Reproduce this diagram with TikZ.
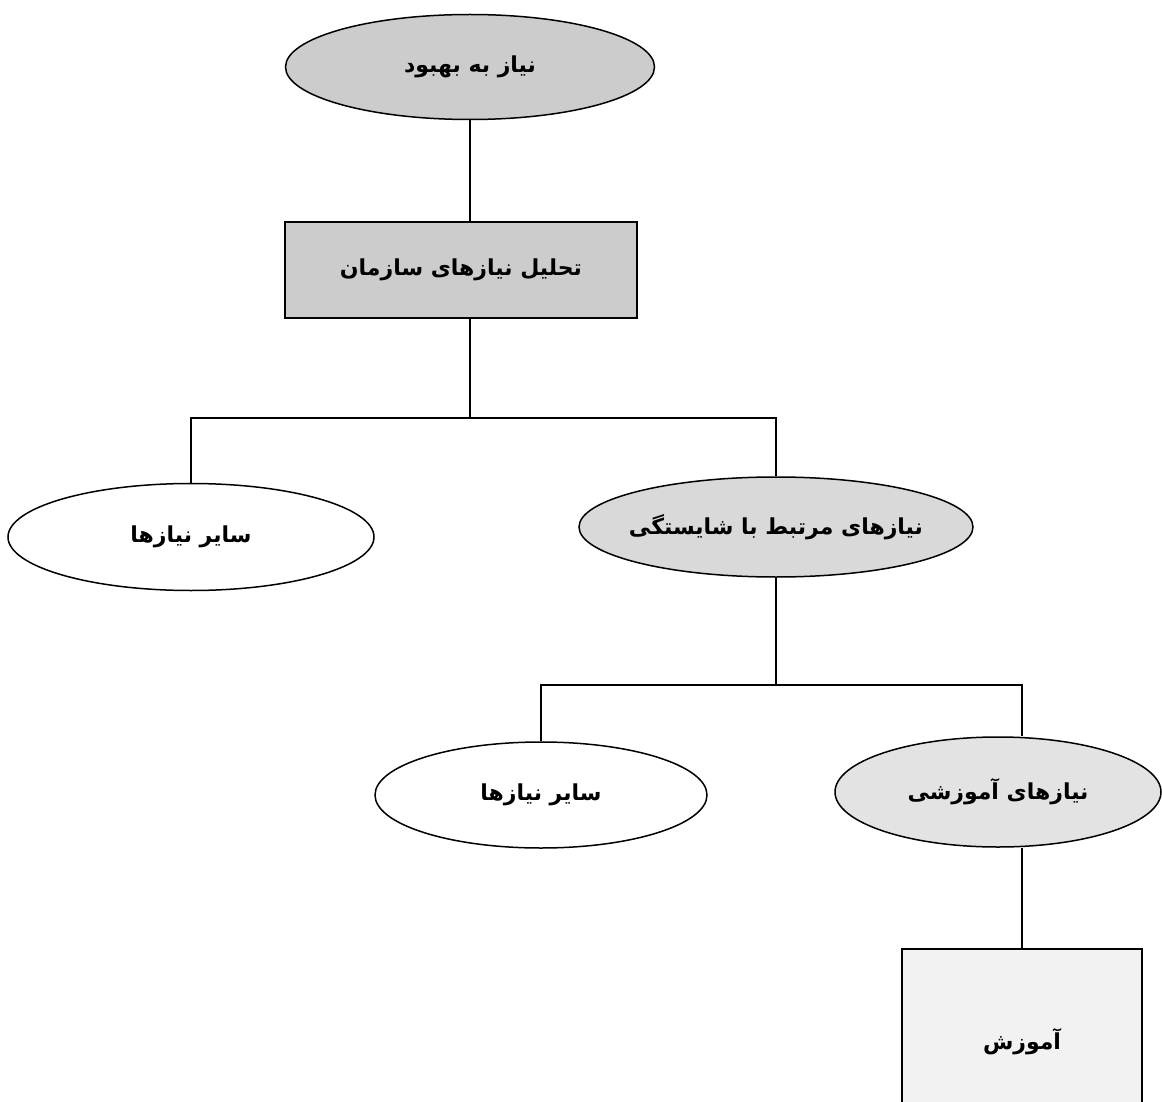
\documentclass[tikz,border=0pt]{standalone}
\usepackage{fontspec}
\usepackage{xcolor}
\usepackage{tikz}
\usetikzlibrary{shapes.geometric}
\TeXXeTstate=1
\newfontfamily\farsi[Script=Arabic]{DejaVu Sans}
\newcommand{\fa}[1]{{\farsi\bfseries\beginR #1\endR}}

\begin{document}
\begin{tikzpicture}[x=1pt,y=-1pt,line width=1.5pt,font=\fontsize{22}{26}\selectfont,
        oval/.style={ellipse,draw,inner ysep=0pt,inner xsep=-30pt},
        box/.style={rectangle,draw,inner sep=0pt},
        link/.style={line width=1.1pt}]
    \useasboundingbox (0,0) rectangle (1162,1102);
    \node[oval,fill=gray!40,minimum width=369pt,minimum height=105pt] (need) at (470,67) {\fa{نیاز به بهبود}};
    \node[box,fill=gray!40,minimum width=352pt,minimum height=96pt] (analysis) at (461,270) {\fa{تحلیل نیازهای سازمان}};
    \node[oval,fill=white,minimum width=366pt,minimum height=107pt] (other1) at (191,537) {\fa{سایر نیازها}};
    \node[oval,fill=gray!30,minimum width=394pt,minimum height=100pt] (comp) at (776,527) {\fa{نیازهای مرتبط با شایستگی}};
    \node[oval,fill=white,minimum width=332pt,minimum height=106pt] (other2) at (541,795) {\fa{سایر نیازها}};
    \node[oval,fill=gray!22,minimum width=326pt,minimum height=110pt] (trainneed) at (998,792) {\fa{نیازهای آموزشی}};
    \node[box,fill=gray!10,minimum width=240pt,minimum height=186pt] (training) at (1022,1042) {\fa{آموزش}};
    % connectors
    \coordinate (bus1) at (470,418);
    \coordinate (bus2) at (776,685);
    \draw[link] (need.south) -- (need.south |- analysis.north);
    \draw[link] (analysis.south -| bus1) -- (bus1);
    \draw[link] (other1.north) |- (bus1) -| (comp.north);
    \draw[link] (comp.south) -- (bus2);
    \draw[link] (other2.north) |- (bus2) -| ([xshift=24pt]trainneed.north);
    \draw[link] ([xshift=24pt]trainneed.south) -- (training.north);
\end{tikzpicture}
\end{document}
